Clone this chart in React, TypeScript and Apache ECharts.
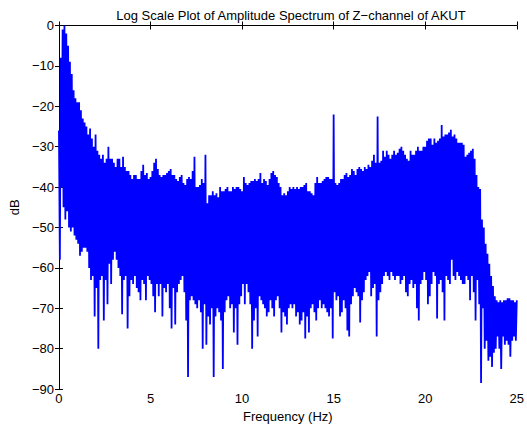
import React, { useEffect, useRef } from "react";
import * as echarts from "echarts";

const TITLE = "Log Scale Plot of Amplitude Spectrum of Z\u2212channel of AKUT";
const X_NAME = "Frequency (Hz)";
const Y_NAME = "dB";
const X_TICKS = [0, 5, 10, 15, 20, 25];
const Y_TICKS = [-90, -80, -70, -60, -50, -40, -30, -20, -10, 0];

// sampling grid of the read-off envelope (Hz)
const FREQ_STEP = 0.1;

// upper envelope, read at 0.0, 0.1, ... 25.0 Hz
const upperDb = [
  -26, -8, -1, 0, -2, -5, -9, -12, -16, -18,
  -19, -19, -21, -23, -24, -25, -27, -25.5, -28, -30,
  -27, -31, -32, -33, -32, -34, -33, -30, -33, -33,
  -34, -35, -33, -33, -35, -32.5, -35, -36, -36, -37,
  -38, -37, -37, -38, -38, -36, -34.5, -37, -36.5, -38,
  -37.5, -36, -34, -33, -35.5, -37, -37.5, -37, -37, -36.5,
  -36, -35.5, -37, -37, -38, -38.5, -37.5, -37, -39, -39.5,
  -38, -37.5, -38, -36, -32.5, -40, -40, -39.5, -38, -39,
  -32, -44, -42, -42, -41, -42, -41.5, -42.5, -40, -41,
  -41, -40.5, -40, -41, -41, -40, -40.5, -40, -40, -40.5,
  -41, -37.5, -39, -39.5, -39, -38.5, -38.5, -38, -38.5, -38,
  -36.5, -39, -38, -38.5, -39.5, -38, -36.5, -36, -37, -37.5,
  -39, -40, -42, -41.5, -42, -41, -40, -40.5, -40, -40.5,
  -40, -40.5, -40, -40, -39.5, -39, -41, -41, -41.5, -42,
  -39, -37.5, -39, -39, -38.5, -38, -37.5, -37.5, -38, -38,
  -22, -39, -39.5, -39, -38, -38, -37, -36.5, -37.5, -37,
  -35.5, -36, -37, -35.5, -35, -35.5, -36, -35, -35.5, -34.5,
  -35, -33.5, -32, -34, -22.5, -34, -33.5, -31, -32.5, -31,
  -32, -33, -32, -31, -32, -31.5, -30.5, -30, -31, -32,
  -33, -33.5, -31, -32, -32, -31, -30, -31, -31, -30,
  -30, -28.5, -28, -28, -29.5, -28, -29, -28.5, -28, -24.6,
  -27.5, -27, -27, -26.5, -25.8, -27.5, -27, -28, -29, -29,
  -29, -29.5, -32.5, -32, -31.5, -31, -30.5, -33, -37, -40,
  -40.5, -48, -50, -54, -56.5, -59, -62, -64.5, -67, -68,
  -68.5, -68, -68.5, -68, -68, -67.5, -67.5, -68, -68, -68.5,
  -68,
];

// lower envelope, read at 0.05, 0.15, ... 24.95 Hz
const lowerDb = [
  -58, -40, -45, -48, -46, -50, -51, -50, -52, -53,
  -54, -57, -56, -55, -55, -56, -60, -63, -62, -72,
  -65, -80, -63, -62, -73, -63, -69, -59, -64, -58,
  -56, -58, -60, -62, -71.5, -63, -62, -75, -67, -63,
  -64, -62, -65, -66, -68, -63, -64, -68, -62, -63,
  -64, -67, -71, -64, -67, -64, -72, -65, -66, -64,
  -70, -75, -65, -74, -66, -64, -63, -62, -66, -73,
  -87, -68, -67, -68, -69, -70, -68, -71, -80, -69,
  -79, -72, -74, -70, -87, -72, -70, -71, -73, -85,
  -71, -68, -67, -70, -69, -76, -70, -79, -69, -67,
  -64, -69, -64, -66, -69, -80, -73, -70, -77, -67,
  -68, -69, -70, -72, -71, -68, -70, -72, -68, -67,
  -70, -76, -71, -72, -74, -70, -69, -70, -69, -72,
  -71, -74, -73, -71, -77.5, -72, -76, -70, -69, -71,
  -73, -70, -68, -70, -69, -70, -71, -72, -70, -77.5,
  -66, -68, -67, -72, -71, -68, -70, -75.5, -77, -69,
  -67, -65, -66, -67, -73.5, -68, -66, -63, -62, -61,
  -67, -65, -64, -77, -68, -66, -64, -62, -61, -62,
  -63, -61, -62, -63, -62, -62, -64, -63, -62, -66,
  -67, -64, -63, -65, -64, -70, -73, -64, -63, -61,
  -63, -69, -67, -64, -61, -62, -72.5, -64, -63, -66,
  -73, -62, -63, -64, -58, -62, -63, -61, -62, -63,
  -64, -64, -62, -63, -68, -62, -66, -73, -63, -69,
  -88.5, -70, -80, -78, -83, -82, -84.5, -81, -80, -77,
  -80, -85, -77, -79, -78, -79, -82, -78, -77, -78,
];

const minus = (v: number | string) => String(v).replace("-", "\u2212");

export default function App() {
  const ref = useRef<HTMLDivElement>(null);

  useEffect(() => {
    document.body.style.margin = "0";
    if (!ref.current) return;
    const chart = echarts.init(ref.current, null, { renderer: "svg" });

    const points: [number, number][] = [];
    for (let i = 0; i < upperDb.length; i++) {
      const f = +(i * FREQ_STEP).toFixed(3);
      points.push([f, upperDb[i]]);
      if (i < lowerDb.length) {
        points.push([+(f + FREQ_STEP / 2).toFixed(3), lowerDb[i]]);
      }
    }

    const font = "'Liberation Sans', Arial, Helvetica, sans-serif";
    const fs = 13;
    const xMin = X_TICKS[0];
    const xMax = X_TICKS[X_TICKS.length - 1];
    const yMin = Y_TICKS[0];
    const yMax = Y_TICKS[Y_TICKS.length - 1];
    const axisLine = { show: true, lineStyle: { color: "#000", width: 1 } };
    const tick = { show: true, inside: true, length: 4, lineStyle: { color: "#000", width: 1 } };

    chart.setOption({
      animation: false,
      backgroundColor: "#fff",
      textStyle: { fontFamily: font },
      title: {
        text: TITLE,
        left: 286,
        textAlign: "center",
        top: 4,
        textStyle: { fontSize: fs, fontWeight: "normal", color: "#000", fontFamily: font },
      },
      grid: { left: 58.7, right: 5.3, top: 25.5, bottom: 37 },
      xAxis: [
        {
          type: "value",
          min: xMin,
          max: xMax,
          interval: 5,
          name: X_NAME,
          nameLocation: "middle",
          nameGap: 16,
          nameTextStyle: { fontSize: fs, color: "#000", fontFamily: font },
          axisLine,
          axisTick: tick,
          axisLabel: { fontSize: fs, color: "#000", margin: 3, fontFamily: font },
          splitLine: { show: false },
        },
        {
          type: "value",
          position: "top",
          min: xMin,
          max: xMax,
          interval: 5,
          axisLine,
          axisTick: tick,
          axisLabel: { show: false },
          splitLine: { show: false },
        },
      ],
      yAxis: [
        {
          type: "value",
          min: yMin,
          max: yMax,
          interval: 10,
          name: Y_NAME,
          nameLocation: "middle",
          nameGap: 33,
          nameTextStyle: { fontSize: fs, color: "#000", fontFamily: font },
          axisLine,
          axisTick: tick,
          axisLabel: {
            fontSize: fs,
            color: "#000",
            margin: 5,
            fontFamily: font,
            formatter: (v: number) => minus(v),
          },
          splitLine: { show: false },
        },
        {
          type: "value",
          position: "right",
          min: yMin,
          max: yMax,
          interval: 10,
          axisLine,
          axisTick: tick,
          axisLabel: { show: false },
          splitLine: { show: false },
        },
      ],
      series: [
        {
          type: "line",
          data: points,
          showSymbol: false,
          symbol: "none",
          clip: true,
          lineStyle: { color: "#0000ff", width: 1.8 },
          itemStyle: { color: "#0000ff" },
        },
      ],
    });

    return () => chart.dispose();
  }, []);

  return <div ref={ref} style={{ width: 527, height: 428 }} />;
}
